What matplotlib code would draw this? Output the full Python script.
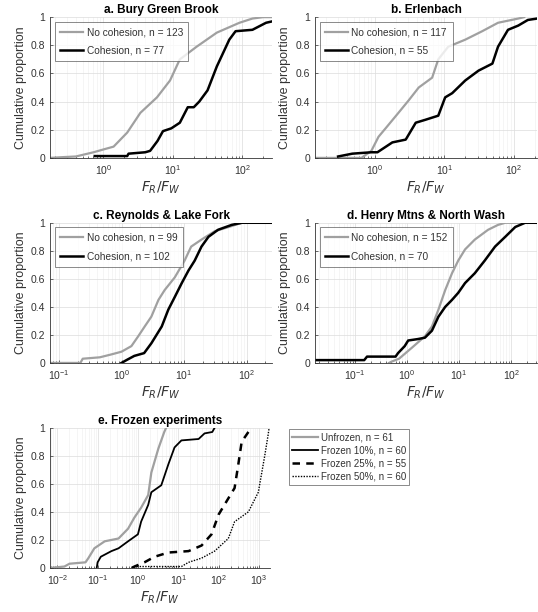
import numpy as np
import matplotlib.pyplot as plt
from matplotlib.ticker import LogLocator, NullFormatter

plt.rcParams['font.family'] = ['Liberation Sans', 'DejaVu Sans']

# values: (x, cumulative proportion) along each curve
# a. Bury Green Brook
a_nc_x = [0.17, 0.25, 0.4, 0.72, 1.0, 1.4, 2.2, 3.4, 5.9, 9.1, 12.6, 22, 43, 91, 140, 200, 270]
a_nc_y = [0.0, 0.005, 0.01, 0.04, 0.06, 0.08, 0.18, 0.32, 0.43, 0.55, 0.70, 0.79, 0.89, 0.96, 0.99, 1.0, 1.0]
a_c_x = [0.75, 2.2, 2.3, 4.0, 4.7, 6.0, 7.2, 9.5, 12.6, 16.4, 20, 24, 31.6, 43, 65, 80, 140, 220, 270]
a_c_y = [0.013, 0.013, 0.03, 0.04, 0.05, 0.12, 0.19, 0.21, 0.25, 0.36, 0.36, 0.40, 0.48, 0.65, 0.84, 0.90, 0.91, 0.96, 0.97]

# b. Erlenbach
b_nc_x = [0.14, 0.65, 0.74, 0.9, 1.14, 1.44, 2.2, 3.1, 4.3, 6.7, 8.2, 11.4, 20, 35, 59, 115, 140]
b_nc_y = [0.0, 0.0, 0.02, 0.05, 0.15, 0.21, 0.32, 0.41, 0.50, 0.57, 0.70, 0.79, 0.84, 0.90, 0.96, 0.99, 1.0]
b_c_x = [0.3, 0.48, 0.9, 1.1, 1.8, 2.8, 3.9, 5.3, 8.2, 10.3, 13, 20, 31, 49, 59, 82, 115, 158, 215]
b_c_y = [0.01, 0.03, 0.04, 0.04, 0.11, 0.13, 0.25, 0.27, 0.30, 0.43, 0.46, 0.55, 0.62, 0.67, 0.79, 0.91, 0.94, 0.98, 0.99]

# c. Reynolds & Lake Fork
c_nc_x = [0.072, 0.22, 0.24, 0.45, 0.68, 1.0, 1.44, 1.85, 2.35, 3.0, 3.9, 4.9, 7.1, 10.2, 13, 19, 31, 52, 84, 257]
c_nc_y = [0.0, 0.0, 0.03, 0.04, 0.06, 0.08, 0.12, 0.19, 0.26, 0.33, 0.45, 0.52, 0.61, 0.73, 0.83, 0.88, 0.94, 0.97, 1.0, 1.0]
c_c_x = [1.0, 1.2, 1.6, 2.3, 3.0, 4.4, 5.6, 7.1, 9.2, 11.8, 14.8, 19, 24.6, 35, 58, 84, 257]
c_c_y = [0.0, 0.02, 0.05, 0.07, 0.14, 0.26, 0.38, 0.47, 0.57, 0.66, 0.73, 0.83, 0.90, 0.95, 0.985, 1.0, 1.0]

# d. Henry Mtns & North Wash
d_nc_x = [0.45, 0.51, 0.7, 1.25, 2.2, 3.0, 4.0, 5.4, 7.3, 9.6, 13, 20, 36, 56, 77, 316]
d_nc_y = [0.0, 0.01, 0.03, 0.11, 0.19, 0.26, 0.38, 0.52, 0.64, 0.73, 0.81, 0.88, 0.95, 0.985, 1.0, 1.0]
d_c_x = [0.017, 0.15, 0.17, 0.6, 0.67, 0.9, 1.05, 1.6, 2.2, 3.0, 4.0, 5.4, 7.3, 9.6, 13, 20, 31, 49, 77, 120, 185, 316]
d_c_y = [0.02, 0.02, 0.045, 0.045, 0.07, 0.12, 0.16, 0.17, 0.18, 0.23, 0.33, 0.40, 0.45, 0.50, 0.57, 0.64, 0.73, 0.83, 0.90, 0.97, 1.0, 1.0]

# e. Frozen experiments
e_unf_x = [0.0066, 0.015, 0.02, 0.05, 0.059, 0.083, 0.15, 0.33, 0.57, 0.82, 1.2, 1.8, 2.15, 3.2, 4.5, 5.0]
e_unf_y = [0.0, 0.01, 0.03, 0.04, 0.07, 0.14, 0.19, 0.21, 0.28, 0.36, 0.43, 0.52, 0.68, 0.85, 0.97, 1.0]
e_f10_x = [0.095, 0.1, 0.12, 0.22, 0.33, 0.57, 1.0, 1.2, 1.8, 2.15, 3.8, 5.7, 8.1, 12, 32, 45, 70, 80]
e_f10_y = [0.0, 0.04, 0.08, 0.12, 0.14, 0.19, 0.24, 0.33, 0.45, 0.54, 0.59, 0.74, 0.86, 0.91, 0.92, 0.96, 0.97, 1.0]
e_f25_x = [0.7, 0.82, 1.45, 2.6, 5.7, 18, 38, 67, 100, 140, 250, 310, 375, 550, 660]
e_f25_y = [0.0, 0.01, 0.04, 0.08, 0.11, 0.12, 0.16, 0.24, 0.38, 0.45, 0.57, 0.74, 0.90, 0.97, 1.0]
e_f50_x = [0.7, 0.82, 12, 18, 38, 80, 175, 250, 550, 970, 1400, 1700, 1800]
e_f50_y = [0.0, 0.01, 0.01, 0.04, 0.07, 0.12, 0.21, 0.33, 0.40, 0.54, 0.80, 0.95, 1.0]

GRAY = '#a0a0a0'
TXT = '#333333'

fig = plt.figure(figsize=(5.38, 6.12), dpi=100)


def setup(ax, title, xlim):
    ax.set_xscale('log')
    ax.set_xlim(xlim)
    ax.set_ylim(0, 1)
    ax.set_yticks([0, 0.2, 0.4, 0.6, 0.8, 1])
    ax.set_yticklabels(['0', '0.2', '0.4', '0.6', '0.8', '1'])
    ax.xaxis.set_major_locator(LogLocator(base=10, numticks=12))
    ax.xaxis.set_minor_locator(LogLocator(base=10, subs=np.arange(2, 10), numticks=12))
    ax.xaxis.set_minor_formatter(NullFormatter())
    ax.grid(True, which='major', color='#dcdcdc', lw=0.5)
    ax.grid(True, which='minor', color='#eeeeee', lw=0.4)
    ax.set_axisbelow(True)
    for s in ['top', 'right']:
        ax.spines[s].set_visible(False)
    for s in ['left', 'bottom']:
        ax.spines[s].set_color(TXT)
        ax.spines[s].set_linewidth(0.6)
    ax.tick_params(which='both', direction='in', labelsize=7.5, colors=TXT, length=2.5, width=0.5)
    ax.tick_params(which='minor', length=1.5)
    ax.set_title(title, fontsize=8.5, fontweight='bold', pad=3)
    ax.set_ylabel('Cumulative proportion', fontsize=9, color=TXT, labelpad=3)
    ax.set_xlabel('$F_R/F_W$', fontsize=10, color=TXT, labelpad=2)


def style_legend(leg):
    leg.get_frame().set_edgecolor('#555555')
    leg.get_frame().set_linewidth(0.6)
    for t in leg.get_texts():
        t.set_color(TXT)


panels = [
    ([0.093, 0.742, 0.413, 0.230], 'a. Bury Green Brook', (0.17, 270),
     a_nc_x, a_nc_y, a_c_x, a_c_y, 123, 77),
    ([0.5855, 0.742, 0.413, 0.230], 'b. Erlenbach', (0.14, 215),
     b_nc_x, b_nc_y, b_c_x, b_c_y, 117, 55),
    ([0.093, 0.407, 0.413, 0.229], 'c. Reynolds & Lake Fork', (0.072, 257),
     c_nc_x, c_nc_y, c_c_x, c_c_y, 99, 102),
    ([0.5855, 0.407, 0.413, 0.229], 'd. Henry Mtns & North Wash', (0.017, 316),
     d_nc_x, d_nc_y, d_c_x, d_c_y, 152, 70),
]

for rect, title, xlim, nx, ny, cx, cy, n1, n2 in panels:
    ax = fig.add_axes(rect)
    setup(ax, title, xlim)
    ax.plot(nx, ny, color=GRAY, lw=1.6, label='No cohesion, n = %d' % n1)
    ax.plot(cx, cy, color='black', lw=1.8, label='Cohesion, n = %d' % n2)
    leg = ax.legend(loc='upper left', fontsize=7.3, frameon=True, fancybox=False,
                    handlelength=2.3, handletextpad=0.3, borderpad=0.55,
                    labelspacing=0.85, borderaxespad=0.45)
    style_legend(leg)

ax = fig.add_axes([0.093, 0.072, 0.409, 0.229])
setup(ax, 'e. Frozen experiments', (0.0066, 1900))
l1, = ax.plot(e_unf_x, e_unf_y, color=GRAY, lw=1.6)
l2, = ax.plot(e_f10_x, e_f10_y, color='black', lw=1.3)
l3, = ax.plot(e_f25_x, e_f25_y, color='black', lw=1.8, ls=(0, (3, 2.5)))
l4, = ax.plot(e_f50_x, e_f50_y, color='black', lw=1.0, ls=(0, (1, 1)))
leg = fig.legend([l1, l2, l3, l4],
                 ['Unfrozen, n = 61', 'Frozen 10%, n = 60', 'Frozen 25%, n = 55', 'Frozen 50%, n = 60'],
                 loc='upper left', bbox_to_anchor=(289 / 538, 1 - 429 / 612),
                 fontsize=7, frameon=True, fancybox=False, handlelength=2.6,
                 handletextpad=0.3, borderpad=0.35, labelspacing=0.32, borderaxespad=0)
style_legend(leg)

fig.savefig('out.png', dpi=100)
